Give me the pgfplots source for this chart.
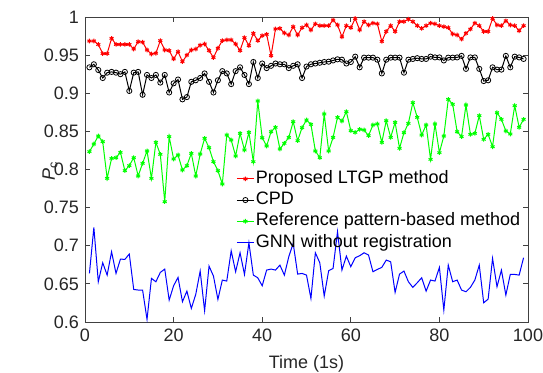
\documentclass[border=0pt]{standalone}
\usepackage{fontspec}
\setmainfont{Liberation Sans}
\usepackage{pgfplots}
\usepackage{pgfplotstable}
\pgfplotsset{compat=1.18}
\pgfplotstableread{
x red black green blue
1 0.9685 0.934 0.8234 0.6637
2 0.9685 0.938 0.8334 0.7240
3 0.964 0.9305 0.8439 0.6528
4 0.952 0.920 0.8365 0.6777
5 0.952 0.927 0.7884 0.6615
6 0.972 0.928 0.8146 0.6921
7 0.964 0.927 0.8155 0.6637
8 0.964 0.925 0.8225 0.6825
9 0.964 0.928 0.7985 0.6821
10 0.964 0.903 0.8050 0.6891
11 0.958 0.927 0.8155 0.6427
12 0.9676 0.928 0.7915 0.6419
13 0.967 0.898 0.8081 0.6419
14 0.9567 0.924 0.8243 0.6034
15 0.9515 0.920 0.7884 0.6572
16 0.9525 0.924 0.8356 0.6528
17 0.969 0.914 0.8199 0.6650
18 0.9567 0.924 0.7578 0.6694
19 0.956 0.901 0.8431 0.6287
20 0.945 0.913 0.8138 0.6475
21 0.9545 0.918 0.8190 0.6585
22 0.9414 0.892 0.7993 0.6266
23 0.950 0.895 0.8050 0.6405
24 0.9567 0.915 0.8212 0.6178
25 0.958 0.917 0.7915 0.6362
26 0.963 0.920 0.8203 0.6668
27 0.9646 0.926 0.8409 0.6148
28 0.956 0.915 0.8286 0.6733
29 0.9467 0.901 0.8103 0.6602
30 0.959 0.917 0.7985 0.6296
31 0.969 0.929 0.7810 0.6550
32 0.970 0.926 0.8452 0.6537
33 0.970 0.912 0.8387 0.6934
34 0.9646 0.929 0.8177 0.6659
35 0.956 0.934 0.8474 0.6908
36 0.973 0.924 0.8256 0.6624
37 0.9624 0.912 0.8487 0.7039
38 0.9786 0.941 0.8103 0.6615
39 0.969 0.920 0.8898 0.6580
40 0.9755 0.939 0.8417 0.6475
41 0.9773 0.933 0.8308 0.6681
42 0.9493 0.936 0.8496 0.6694
43 0.9843 0.939 0.8553 0.6681
44 0.985 0.938 0.8269 0.6746
45 0.979 0.938 0.8343 0.6615
46 0.9764 0.933 0.8421 0.6856
47 0.9873 0.936 0.8627 0.7031
48 0.9764 0.938 0.8378 0.6628
49 0.986 0.920 0.8549 0.6637
50 0.9895 0.935 0.8649 0.6615
51 0.983 0.938 0.8592 0.6309
52 0.991 0.939 0.8243 0.6908
53 0.9886 0.940 0.8155 0.6777
54 0.9886 0.941 0.8728 0.6340
55 0.9886 0.9414 0.8243 0.6672
56 0.996 0.943 0.8421 0.6703
57 0.9895 0.9445 0.8684 0.7184
58 0.974 0.944 0.8636 0.6681
59 0.9886 0.939 0.8758 0.6864
60 0.986 0.941 0.8509 0.6725
61 0.998 0.948 0.8487 0.6843
62 0.983 0.934 0.8527 0.6869
63 0.994 0.9467 0.8518 0.6908
64 0.9895 0.9467 0.8444 0.6878
65 0.992 0.9467 0.8584 0.6659
66 0.991 0.944 0.8597 0.6690
67 0.968 0.926 0.8356 0.6716
68 0.981 0.944 0.8640 0.6812
69 0.9886 0.9467 0.8421 0.6790
70 0.981 0.9467 0.8618 0.6388
71 0.994 0.9467 0.8278 0.6628
72 0.994 0.927 0.8483 0.6668
73 0.997 0.944 0.8605 0.6528
74 0.994 0.945 0.8877 0.6454
75 0.9886 0.946 0.8684 0.6515
76 0.985 0.945 0.8452 0.6580
77 0.9886 0.945 0.8584 0.6405
78 0.992 0.948 0.8133 0.6550
79 0.991 0.947 0.8597 0.6537
80 0.9886 0.947 0.8221 0.6716
81 0.9873 0.943 0.8439 0.6156
82 0.986 0.9467 0.8920 0.6746
83 0.9777 0.9467 0.8855 0.6528
84 0.9764 0.947 0.8496 0.6550
85 0.971 0.949 0.8431 0.6419
86 0.9786 0.932 0.8846 0.6397
87 0.984 0.947 0.8461 0.6454
88 0.992 0.947 0.8474 0.6550
89 0.9886 0.932 0.8706 0.6746
90 0.981 0.916 0.8396 0.6252
91 0.981 0.917 0.8461 0.6300
92 0.998 0.934 0.8299 0.6834
93 0.9895 0.931 0.8745 0.6462
94 0.9886 0.931 0.8658 0.6681
95 0.995 0.949 0.8505 0.6353
96 0.9895 0.934 0.8466 0.6624
97 0.9886 0.948 0.8837 0.6624
98 0.982 0.947 0.8553 0.6615
99 0.9886 0.945 0.8658 0.6843
}\data
\begin{document}
\fontsize{18}{21}\selectfont
\begin{tikzpicture}
\begin{axis}[name=ax, at={(0,0)}, anchor=south west,
  scale only axis, width=443pt, height=305pt,
  xmin=0, xmax=100, ymin=0.6, ymax=1,
  xtick={0,20,40,60,80,100},
  ytick={0.6,0.65,0.7,0.75,0.8,0.85,0.9,0.95,1},
  tick align=inside, major tick length=5pt,
  axis line style={black!75, line width=0.8pt},
  tick style={black!75, line width=0.8pt},
  /pgf/number format/assume math mode=true,
  tick label style={font=\fontsize{18}{21}\selectfont, text=black!85},
  xticklabel style={yshift=-1pt},
  xlabel={Time (1s)},
  every axis x label/.style={at={(axis description cs:0.5,0)}, anchor=center, yshift=-42pt, font=\fontsize{18}{21}\selectfont, text=black!85},
  legend style={draw=none, fill=none, at={(0.339,0.508)}, anchor=north west,
    font=\fontsize{18}{20}\selectfont, row sep=0pt, inner sep=1pt,
    nodes={inner sep=1.5pt, text height=13.8pt, text depth=4.4pt}},
  legend cell align=left,
]
\addplot[red, line width=1pt, mark=asterisk, mark size=2.3pt] table[x=x,y=red] {\data};
\addlegendentry{Proposed LTGP method}
\addplot[black, line width=1pt, mark=o, mark size=2.6pt, mark options={line width=0.8pt}] table[x=x,y=black] {\data};
\addlegendentry{CPD}
\addplot[green, line width=1pt, mark=asterisk, mark size=2.3pt] table[x=x,y=green] {\data};
\addlegendentry{Reference pattern-based method}
\addplot[blue, line width=1pt] table[x=x,y=blue] {\data};
\addlegendentry{GNN without registration}
\end{axis}
\node[rotate=90, anchor=center, inner sep=0pt, font=\fontsize{18}{21}\selectfont, text=black!85] at ([xshift=-35pt,yshift=-2pt]ax.west) {\textit{P}\textsubscript{c}};
\pgfresetboundingbox
\path ([xshift=-85pt,yshift=-50pt]ax.south west) rectangle ([xshift=15pt,yshift=17pt]ax.north east);
\end{tikzpicture}
\end{document}
